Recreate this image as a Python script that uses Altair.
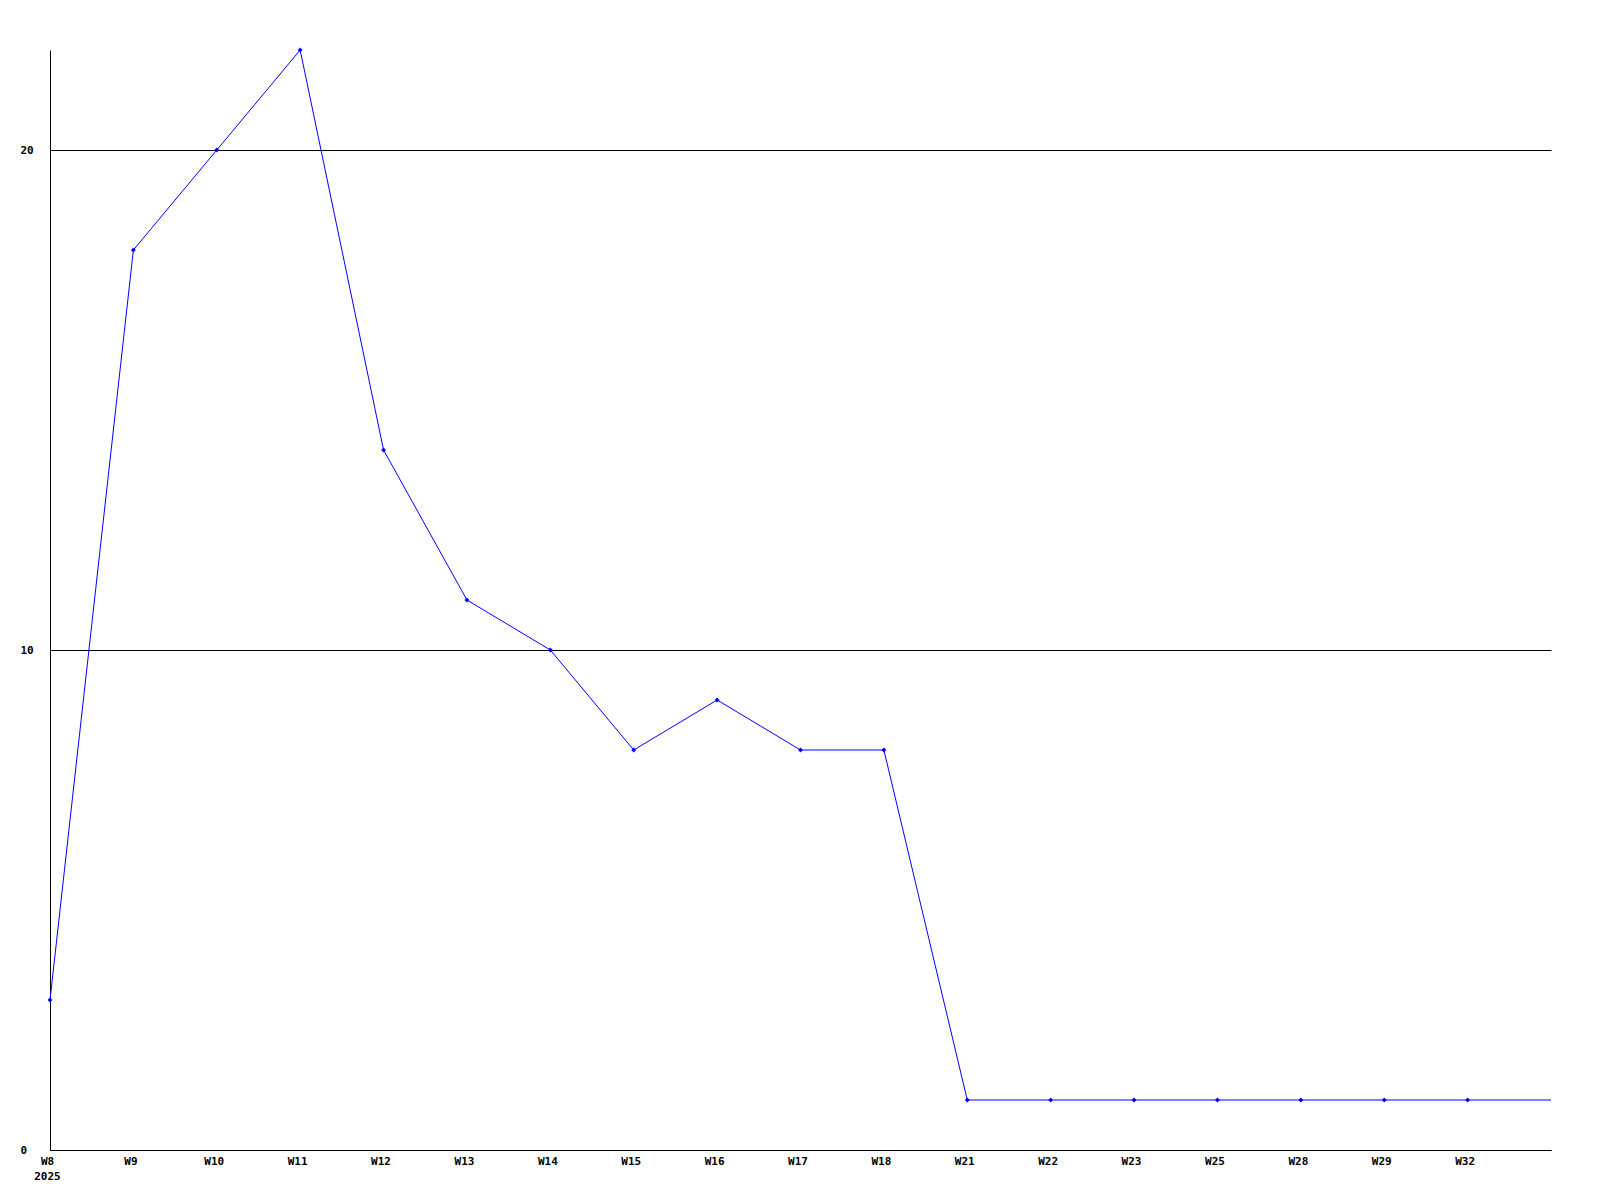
import altair as alt
import pandas as pd

weeks = ["W8", "W9", "W10", "W11", "W12", "W13", "W14", "W15", "W16", "W17",
         "W18", "W21", "W22", "W23", "W25", "W28", "W29", "W32"]
values = [3, 18, 20, 22, 14, 11, 10, 8, 9, 8, 8, 1, 1, 1, 1, 1, 1, 1]
year_label = "2025"
tail_value = 1  # line continues to the right edge at this level

rows = [{"idx": i, "week": w, "value": v, "marker": True}
        for i, (w, v) in enumerate(zip(weeks, values))]
rows.append({"idx": len(weeks), "week": "", "value": tail_value, "marker": False})
df = pd.DataFrame(rows)

label_map = "{" + ",".join(f'"{i}":"{w}"' for i, w in enumerate(weeks)) + "}"
label_expr = (f"datum.value == 0 ? ['{weeks[0]}', '{year_label}'] : "
              f"({label_map})[toString(datum.value)] || ''")

font = "DejaVu Sans Mono"

x = alt.X("idx:Q",
          scale=alt.Scale(domain=[0, len(weeks)], nice=False, zero=False),
          axis=alt.Axis(values=list(range(len(weeks))), labelExpr=label_expr,
                        grid=False, ticks=False, domainColor="black",
                        domainWidth=1, labelFont=font, labelFontWeight="bold",
                        labelFontSize=11, labelColor="black", labelPadding=5,
                        labelAlign="center", labelBaseline="top", labelOffset=-3,
                        labelLineHeight=15, title=None, labelFlush=False,
                        labelOverlap=False))
y = alt.Y("value:Q",
          scale=alt.Scale(domain=[0, 22], nice=False, zero=True),
          axis=alt.Axis(values=[0, 10, 20], grid=True, gridColor="black",
                        gridWidth=1, gridOpacity=1, ticks=False,
                        domainColor="black", domainWidth=1, labelFont=font,
                        labelFontWeight="bold", labelFontSize=11,
                        labelColor="black", labelPadding=30, labelAlign="left",
                        title=None, labelFlush=False))

line = alt.Chart(df).mark_line(color="#0000ff", strokeWidth=1).encode(x=x, y=y)
pts = alt.Chart(df).transform_filter("datum.marker").mark_point(
    shape="diamond", filled=True, color="#0000ff", size=24, opacity=1
).encode(x=x, y=y)

chart = (line + pts).properties(
    width=1501, height=1100,
    autosize=alt.AutoSizeParams(type="none"),
    padding={"left": 42, "top": 42, "right": 30, "bottom": 40},
    background="white",
).configure_view(stroke=None)

chart.save("out.html", embed_options={"renderer": "svg", "actions": False})
